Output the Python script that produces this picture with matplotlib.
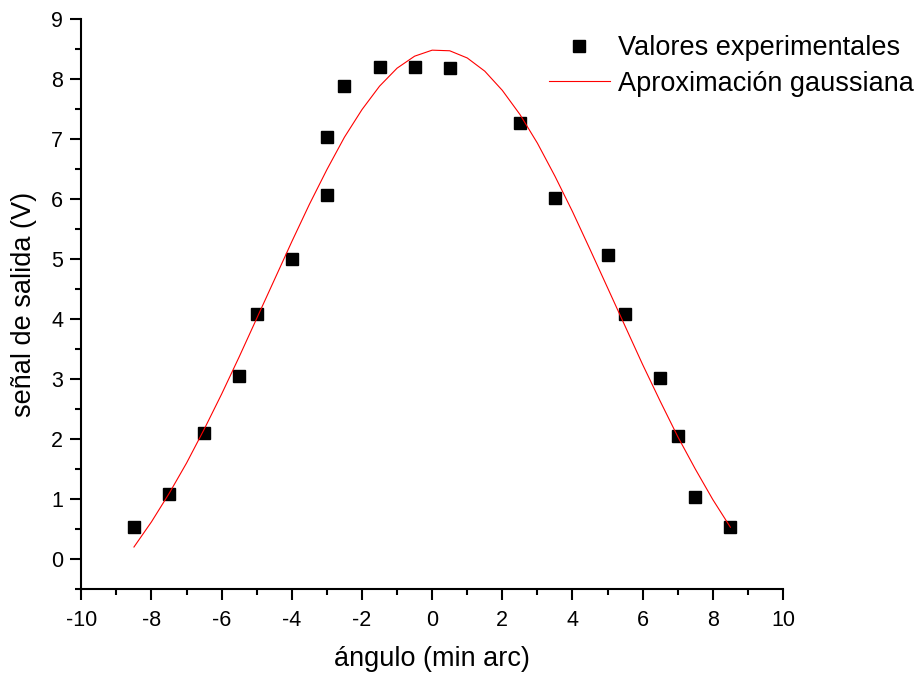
'''
Output signal vs angle, with the gaussian fit
'''

import matplotlib
matplotlib.use("Agg")
import matplotlib.pyplot as plt
from matplotlib.ticker import MultipleLocator


##########################################

# measured points
angulo=[-8.5,-7.5,-6.5,-5.5,-5.0,-4.0,-3.0,-3.0,-2.5,-1.5,-0.5,0.5,2.5,3.5,5.0,5.5,6.5,7.0,7.5,8.5]
senal=[0.53,1.08,2.10,3.05,4.08,5.00,7.03,6.06,7.88,8.20,8.20,8.18,7.26,6.01,5.07,4.08,3.01,2.05,1.03,0.53]

# gaussian fit, every half minute
angFit=[-8.5,-8.0,-7.5,-7.0,-6.5,-6.0,-5.5,-5.0,-4.5,-4.0,-3.5,-3.0,-2.5,-2.0,-1.5,-1.0,-0.5,
        0.0,0.5,1.0,1.5,2.0,2.5,3.0,3.5,4.0,4.5,5.0,5.5,6.0,6.5,7.0,7.5,8.0,8.5]
senFit=[0.20,0.62,1.09,1.60,2.16,2.75,3.37,4.01,4.65,5.29,5.91,6.49,7.03,7.49,7.88,8.18,8.38,
        8.48,8.47,8.35,8.13,7.81,7.41,6.93,6.38,5.79,5.16,4.52,3.88,3.24,2.63,2.04,1.50,0.99,0.53]

xTicks=[-10,-8,-6,-4,-2,0,2,4,6,8,10]
yTicks=[0,1,2,3,4,5,6,7,8,9]

labPts="Valores experimentales"
labFit="Aproximación gaussiana"


##########################################

def makePlot(outName="out.png"):
  '''Draw the chart in the Origin look'''
  plt.rcParams['font.family']=['Liberation Sans','DejaVu Sans']
  plt.rcParams['axes.unicode_minus']=False   # plain hyphen like Origin

  fig=plt.figure(figsize=(9.19,6.75),dpi=100)
  ax=fig.add_axes([0.0885,0.1274,0.7635,0.8445])

  ax.plot(angulo,senal,linestyle="none",marker="s",markersize=8,color="black",label=labPts)
  ax.plot(angFit,senFit,color="red",linewidth=0.8,label=labFit)

  # axes ranges and ticks
  ax.set_xlim(-10,10)
  ax.set_ylim(-0.5,9)
  ax.set_xticks(xTicks)
  ax.set_yticks(yTicks)
  ax.xaxis.set_minor_locator(MultipleLocator(1))
  ax.yaxis.set_minor_locator(MultipleLocator(0.5))

  # only left and bottom axes
  for s in ["top","right"]:
    ax.spines[s].set_visible(False)
  for s in ["left","bottom"]:
    ax.spines[s].set_linewidth(1.5)
  ax.tick_params(which="major",direction="out",length=8,width=1.5,labelsize=15.5)
  ax.tick_params(which="minor",direction="out",length=4,width=1.5)
  ax.tick_params(axis="x",which="major",pad=7)
  ax.tick_params(axis="y",which="major",pad=5)

  ax.set_xlabel("ángulo (min arc)",fontsize=19.5,labelpad=11)
  ax.set_ylabel("señal de salida (V)",fontsize=19.5,labelpad=10)

  # legend sits over the top right corner, no frame
  ax.legend(loc="upper left",bbox_to_anchor=(0.597,0.948),bbox_transform=fig.transFigure,
            frameon=False,fontsize=19.5,numpoints=1,handlelength=2.25,handletextpad=0.3,
            labelspacing=0.36,borderpad=0,borderaxespad=0)

  fig.savefig(outName,dpi=100)
  plt.close(fig)
  print("Graph to",outName)


##########################################

if __name__=="__main__":
  makePlot()
